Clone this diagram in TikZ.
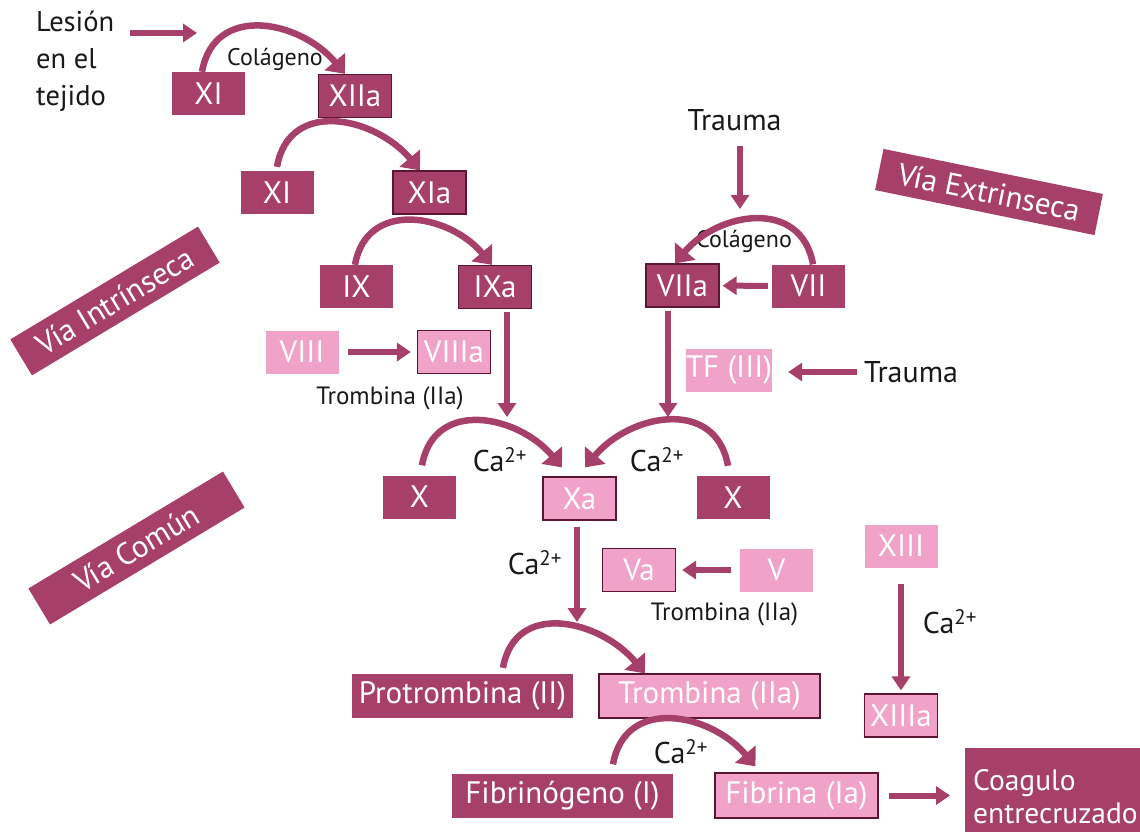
\documentclass[tikz,border=0pt]{standalone}
\usepackage{fontspec}
\setmainfont{PT Sans}
\usetikzlibrary{arrows.meta,positioning}
\definecolor{wine}{HTML}{A6406A}
\definecolor{rose}{HTML}{F0A2C9}
\definecolor{winedark}{HTML}{5C1634}
\newcommand{\ca}{Ca\textsuperscript{2+}}
\tikzset{
factor/.style={fill=wine,text=white,minimum width=73pt,minimum height=43pt,inner sep=0pt,font=\fontsize{31}{32}\selectfont},
factora/.style={factor,draw=winedark,line width=1.2pt},
pfactor/.style={factor,fill=rose},
pfactora/.style={pfactor,draw=winedark,line width=1.2pt},
wide/.style={minimum width=221pt,minimum height=44pt},
via/.style={fill=wine,text=white,minimum width=222pt,minimum height=42pt,font=\fontsize{31}{32}\selectfont},
note/.style={inner sep=0pt,text=black!90,font=\fontsize{30}{31}\selectfont},
smallnote/.style={note,font=\fontsize{25}{27}\selectfont},
tinynote/.style={note,font=\fontsize{24}{26}\selectfont},
arrow/.style={-{Triangle[length=14pt,width=18pt]},line width=6pt,wine},
arcarrow/.style={-{Triangle[length=16pt,width=26pt]},line width=6.5pt,wine},
bendr/.style={out=80,in=130,looseness=1.25},
bendl/.style={out=100,in=50,looseness=1.25}
}
\begin{document}
\begin{tikzpicture}[x=1pt,y=1pt]
\useasboundingbox (0,0) rectangle (1140,-831);

\node[note,align=left,anchor=north west,font=\fontsize{28.5}{37}\selectfont] (lesion) at (36,-11) {Lesión\\en el\\tejido};
\node[factor] (xi) at (208.5,-93.5) {XI};
\node[factora] (xiia) at (355,-96) {XIIa};
\node[factor] (xib) at (277,-192.5) {XI};
\node[factora] (xia) at (429.5,-192.5) {XIa};
\node[factor] (ix) at (356.5,-286.5) {IX};
\node[factora] (ixa) at (495,-287) {IXa};
\node[pfactor] (viii) at (302,-352) {VIII};
\node[pfactora] (viiia) at (454,-352) {VIIIa};
\node[smallnote] (tromba) at (390,-398) {Trombina (IIa)};

\node[note] (traumaa) at (734.5,-120) {Trauma};
\node[factora] (viia) at (682.5,-285.5) {VIIa};
\node[factor] (vii) at (808.5,-286) {VII};
\node[pfactor,minimum width=84pt] (tf) at (729,-370) {TF (III)};
\node[note] (traumab) at (911,-372) {Trauma};

\node[factor] (xl) at (419.5,-497) {X};
\node[pfactora] (xa) at (579.5,-498.5) {Xa};
\node[factor] (xr) at (733,-497.5) {X};
\node[pfactora] (va) at (639,-570) {Va};
\node[pfactor] (v) at (776.5,-570) {V};
\node[smallnote] (trombb) at (724.5,-614) {Trombina (IIa)};
\node[pfactor] (xiii) at (901,-546) {XIII};
\node[pfactora] (xiiia) at (901,-715.5) {XIIIa};
\node[factor,wide] (protr) at (462.5,-696) {Protrombina (II)};
\node[pfactora,wide] (tromb) at (709.5,-696) {Trombina (IIa)};
\node[factor,wide] (fibg) at (562.5,-795.5) {Fibrinógeno (I)};
\node[pfactora,minimum width=163pt,minimum height=45pt] (fibr) at (796.5,-795.5) {Fibrina (Ia)};
\node[factor,anchor=north west,align=left,text width=172pt,inner xsep=8pt,minimum height=97pt,font=\fontsize{29.5}{33}\selectfont] (coag) at (965,-748) {Coagulo\\entrecruzado};

\node[via,rotate=31,minimum width=219pt] (vint) at (115,-301) {Vía Intrínseca};
\node[via,rotate=31,minimum width=227pt] (vcom) at (136.5,-548) {Vía Común};
\node[via,rotate=-11.6,minimum width=224pt] (vext) at (989,-192) {Vía Extrinseca};

\node[tinynote] (cola) at (275,-59) {Colágeno};
\node[tinynote] (colb) at (744,-241) {Colágeno};
\node[note] (caa) at (500,-460) {\ca};
\node[note] (cab) at (657,-460) {\ca};
\node[note] (cac) at (535,-563) {\ca};
\node[note] (cad) at (950,-622) {\ca};
\node[note] (cae) at (681,-752) {\ca};

\coordinate (lesend) at (197,-33);
\coordinate (traumaend) at (740,-209);
\coordinate (ixend) at (507,-417);
\coordinate (viiend) at (668,-417);
\coordinate (xaend) at (577,-622);

\draw[arrow,shorten <=16pt] (lesion.east |- lesend) -- (lesend);
\draw[arrow,shorten <=15pt] (traumaa.south -| traumaend) -- (traumaend);
\draw[arrow,shorten <=4pt,shorten >=3pt] (vii) -- (viia);
\draw[arrow,shorten <=9pt,shorten >=6pt] (viii) -- (viiia);
\draw[arrow,shorten <=9pt,shorten >=6pt] (v) -- (va);
\draw[arrow,shorten <=7pt,shorten >=16pt] (traumab) -- (traumab -| tf.east);
\draw[arrow,shorten <=3pt] (ixa.south -| ixend) -- (ixend);
\draw[arrow,shorten <=3pt] (viia.south -| viiend) -- (viiend);
\draw[arrow,shorten <=6pt] (xa.south -| xaend) -- (xaend);
\draw[arrow,shorten <=16pt,shorten >=3pt] (xiii) -- (xiiia);
\draw[arrow,shorten <=10pt,shorten >=15pt] (fibr.east) -- (fibr.east -| coag.west);

\draw[arcarrow] ([xshift=-6.5pt]xi.north) to[bendr] ([xshift=-10pt]xiia.north);
\draw[arcarrow] ([yshift=4pt]xib.north) to[bendr] ([xshift=-9.5pt]xia.north);
\draw[arcarrow] ([xshift=-1.5pt]ix.north) to[bendr] ([xshift=-3pt]ixa.north);
\draw[arcarrow] ([xshift=4.5pt]vii.north) to[bendl] ([xshift=-7.5pt]viia.north);
\draw[arcarrow] ([xshift=2.5pt,yshift=10pt]xl.north) to[bendr] ([xshift=-17.5pt,yshift=9pt]xa.north);
\draw[arcarrow] ([xshift=-5pt,yshift=10pt]xr.north) to[bendl] ([xshift=5.5pt,yshift=9pt]xa.north);
\draw[arcarrow] ([xshift=40.5pt,yshift=6pt]protr.north) to[bendr] ([xshift=-64.5pt]tromb.north);
\draw[arcarrow] ([xshift=50.5pt,yshift=9pt]fibg.north) to[bendr] ([xshift=-41pt,yshift=6pt]fibr.north);
\end{tikzpicture}
\end{document}
